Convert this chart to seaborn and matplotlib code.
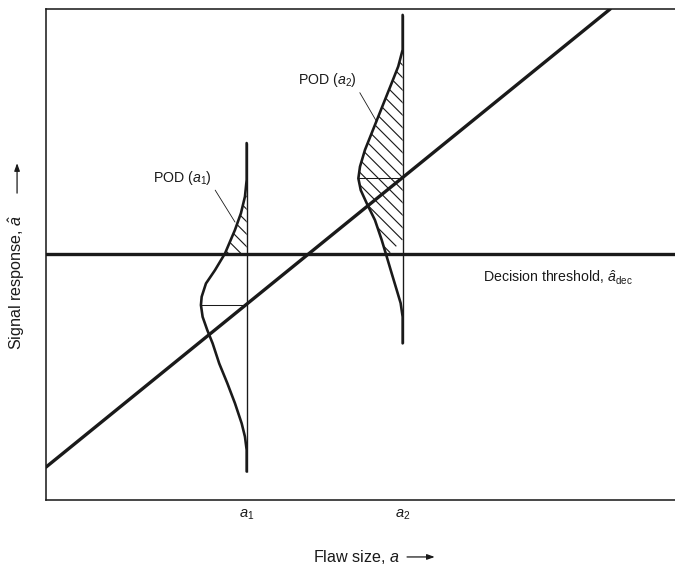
import numpy as np
import matplotlib
matplotlib.use('Agg')
import matplotlib.pyplot as plt
import seaborn as sns

# 결함 크기 a1, a2 와 그 위치의 평균 신호응답
flaw_sizes = [3.19, 5.67]
flaw_labels = ['$a_1$', '$a_2$']
mean_resp = [3.97, 6.55]
threshold = 5.02  # decision threshold

# a-hat vs a 직선 (그림에서 읽은 양 끝점)
line_a = [0.0, 8.97]
line_ahat = [0.67, 10.0]

# a1 에서의 응답 분포 : 응답값 / 곡선 폭
pod1_resp = [7.27, 6.52, 6.18, 5.84, 5.50, 5.02, 4.68, 4.41, 4.14, 3.97,
             3.73, 3.46, 3.19, 2.78, 2.38, 1.97, 1.56, 1.29, 1.02, 0.58]
pod1_dens = [0.0, 0.0, 0.027, 0.091, 0.186, 0.345, 0.504, 0.647, 0.715, 0.727,
             0.700, 0.626, 0.541, 0.436, 0.308, 0.186, 0.079, 0.027, 0.0, 0.0]

# a2 에서의 응답 분포
pod2_resp = [9.88, 9.17, 8.83, 8.49, 8.15, 7.81, 7.47, 7.13, 6.79, 6.55,
             6.31, 6.04, 5.70, 5.30, 4.96, 4.62, 4.28, 4.01, 3.73, 3.19]
pod2_dens = [0.0, 0.0, 0.070, 0.175, 0.281, 0.387, 0.493, 0.599, 0.678, 0.704,
             0.666, 0.570, 0.440, 0.334, 0.254, 0.175, 0.095, 0.032, 0.0, 0.0]

sns.set_theme(style='white')
plt.rcParams['font.family'] = ['Liberation Sans', 'DejaVu Sans']
plt.rcParams['mathtext.fontset'] = 'custom'
plt.rcParams['mathtext.rm'] = 'Liberation Sans'
plt.rcParams['mathtext.it'] = 'Liberation Sans:italic'
plt.rcParams['hatch.linewidth'] = 1.1
plt.rcParams['hatch.color'] = 'k'
for key in ['text.color', 'axes.labelcolor', 'xtick.color', 'ytick.color']:
    plt.rcParams[key] = 'k'

fig = plt.figure(figsize=(9, 7.56), dpi=75)
ax = fig.add_axes([46 / 675, 67 / 567, 629 / 675, 491 / 567])
ax.set_xlim(0, 10)
ax.set_ylim(0, 10)

# 신호응답 직선
sns.lineplot(x=line_a, y=line_ahat, color='k', lw=3.2, ax=ax)
# 판정 기준선
ax.axhline(threshold, color='k', lw=3.2)

curves = [(pod1_resp, pod1_dens), (pod2_resp, pod2_dens)]
for a, m, (resp, dens) in zip(flaw_sizes, mean_resp, curves):
    resp = np.array(resp)
    xs = a - np.array(dens)
    ax.vlines(a, resp.min(), resp.max(), color='k', lw=1.3)
    sns.lineplot(x=xs, y=resp, sort=False, estimator=None, color='k', lw=2.5, ax=ax)
    ax.hlines(m, xs.min(), a, color='k', lw=1.0)
    # POD 영역 (threshold 위쪽)
    ax.fill_betweenx(resp, xs, a, where=resp >= threshold, interpolate=True,
                     facecolor='none', edgecolor='k', hatch='\\\\', linewidth=0)

ax.annotate('POD ($a_1$)', xy=(3.005, 5.66), xytext=(2.64, 6.56),
            ha='right', va='center', fontsize=13.5,
            arrowprops=dict(arrowstyle='-', lw=0.8, color='k',
                            shrinkA=1, shrinkB=0, relpos=(1.0, 0.1)))
ax.annotate('POD ($a_2$)', xy=(5.26, 7.70), xytext=(4.94, 8.55),
            ha='right', va='center', fontsize=13.5,
            arrowprops=dict(arrowstyle='-', lw=0.8, color='k',
                            shrinkA=1, shrinkB=0, relpos=(1.0, 0.1)))
ax.text(6.95, 4.52, r'Decision threshold, $\hat{a}_{\mathrm{dec}}$',
        ha='left', va='center', fontsize=13.5)

ax.set_xticks(flaw_sizes)
ax.set_xticklabels(flaw_labels, fontsize=14)
ax.set_yticks([])
ax.tick_params(axis='x', length=0, pad=7)

# 축 이름 + 화살표
ax.set_xlabel('Flaw size, $a$', fontsize=15.5)
ax.xaxis.label.set_verticalalignment('center')
ax.xaxis.set_label_coords(0.494, -0.116)
ax.set_ylabel('Signal response, $\\hat{a}$', fontsize=15.5)
ax.yaxis.label.set_verticalalignment('center')
ax.yaxis.set_label_coords(-0.046, 0.444)

arrow = dict(arrowstyle='-|>,head_length=0.5,head_width=0.18', lw=1.2, color='k',
             shrinkA=0, shrinkB=0)
ax.annotate('', xy=(0.618, -0.116), xytext=(0.574, -0.116), xycoords='axes fraction',
            arrowprops=arrow, annotation_clip=False)
ax.annotate('', xy=(-0.046, 0.686), xytext=(-0.046, 0.625), xycoords='axes fraction',
            arrowprops=arrow, annotation_clip=False)

for side in ['left', 'top', 'bottom']:
    ax.spines[side].set_color('k')
    ax.spines[side].set_linewidth(1.5)
ax.spines['right'].set_visible(False)

plt.savefig('out.png', dpi=75)
